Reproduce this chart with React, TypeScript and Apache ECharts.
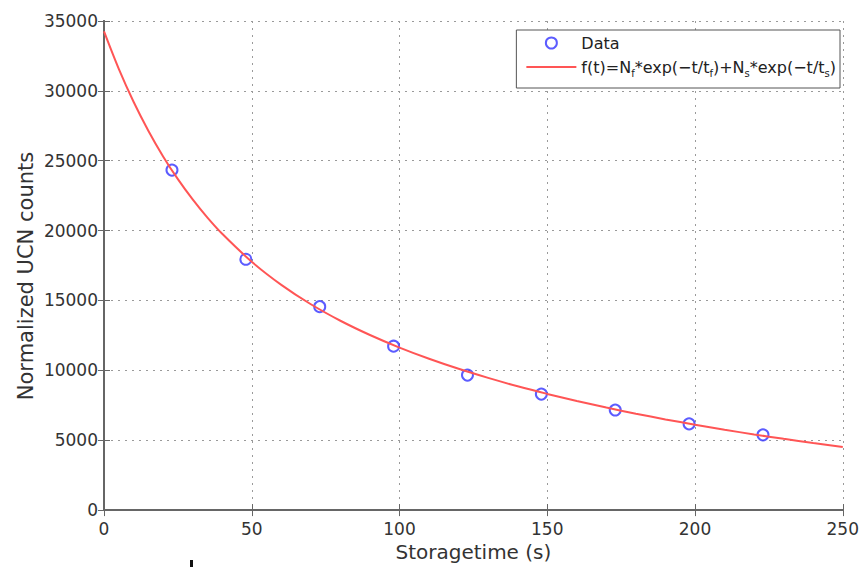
import React, { useEffect, useRef } from "react";
import * as echarts from "echarts";

const dataTimes = [23, 48, 73, 98, 123, 148, 173, 198, 223];
const dataCounts = [24330, 17950, 14560, 11730, 9660, 8300, 7160, 6170, 5385];

const fitTimes = [0, 5, 10, 15, 20, 25, 30, 35, 40, 50, 60, 70, 80, 90, 100, 110, 120, 130, 140, 150, 160, 170, 180, 190, 200, 210, 220, 230, 240, 250];
const fitCounts = [34250, 31570, 29220, 27150, 25310, 23680, 22230, 20930, 19770, 17770, 16120, 14730, 13550, 12530, 11630, 10830, 10110, 9460, 8860, 8315, 7810, 7340, 6900, 6490, 6110, 5750, 5415, 5100, 4800, 4520];

const xTicks = [0, 50, 100, 150, 200, 250];
const yTicks = [0, 5000, 10000, 15000, 20000, 25000, 30000, 35000];

const FONT = "'DejaVu Sans', 'Liberation Sans', Arial, sans-serif";
const TXT = "#333333";
const AX = "#666666";

export default function App() {
  const ref = useRef<HTMLDivElement>(null);
  useEffect(() => {
    if (!ref.current) return;
    const chart = echarts.init(ref.current, null, { renderer: "svg" });
    const fitName = "fit";
    chart.setOption({
      animation: false,
      backgroundColor: "#ffffff",
      grid: { left: 104, right: 15, top: 21, bottom: 52, containLabel: false },
      legend: {
        right: 22,
        top: 30,
        orient: "vertical",
        backgroundColor: "#ffffff",
        borderColor: "#555",
        borderWidth: 1,
        borderRadius: 0,
        padding: [5, 4, 10, 10],
        itemGap: 8,
        itemWidth: 50,
        itemHeight: 11,
        textStyle: {
          fontFamily: FONT,
          fontSize: 16,
          color: "#222",
          rich: {
            n: { fontFamily: FONT, fontSize: 16, color: "#222" },
            s: { fontFamily: FONT, fontSize: 10, color: "#222", verticalAlign: "bottom", padding: [12, 0, 0, 0] },
          },
        },
        formatter: (name: string) =>
          name === "Data"
            ? "{n|Data}"
            : "{n|f(t)=N}{s|f}{n|*exp(\u2212t/t}{s|f}{n|)+N}{s|s}{n|*exp(\u2212t/t}{s|s}{n|)}",
        data: [
          { name: "Data", icon: "circle", itemStyle: { color: "#fff", borderColor: "#3333ff", borderWidth: 2 } },
          { name: fitName, icon: "path://M0,0 L50,0 L50,2 L0,2 Z", itemStyle: { color: "#ff5555" } },
        ],
      },
      xAxis: [
        {
          type: "value",
          min: xTicks[0],
          max: xTicks[xTicks.length - 1],
          interval: 50,
          position: "bottom",
          name: "Storagetime (s)",
          nameLocation: "middle",
          nameGap: 28,
          nameTextStyle: { fontFamily: FONT, fontSize: 20, color: TXT },
          axisLine: { show: true, lineStyle: { color: AX, width: 2 } },
          axisTick: { show: true, inside: true, length: 6, lineStyle: { color: AX } },
          axisLabel: { fontFamily: FONT, fontSize: 17, color: TXT, margin: 10, formatter: (v: number) => String(v) },
          splitLine: { show: true, lineStyle: { color: "#9a9a9a", type: [2, 5], width: 1 } },
        },
        {
          type: "value",
          min: xTicks[0],
          max: xTicks[xTicks.length - 1],
          interval: 50,
          position: "top",
          axisLine: { show: true, lineStyle: { color: AX, width: 2 } },
          axisTick: { show: true, inside: true, length: 6, lineStyle: { color: AX } },
          axisLabel: { show: false },
          splitLine: { show: false },
        },
      ],
      yAxis: [
        {
          type: "value",
          min: yTicks[0],
          max: yTicks[yTicks.length - 1],
          interval: 5000,
          position: "left",
          axisLine: { show: true, lineStyle: { color: AX, width: 2 } },
          axisTick: { show: true, inside: true, length: 6, lineStyle: { color: AX } },
          axisLabel: { fontFamily: FONT, fontSize: 17, color: TXT, margin: 6, formatter: (v: number) => String(v) },
          splitLine: { show: true, lineStyle: { color: "#9a9a9a", type: [2, 5], width: 1 } },
        },
        {
          type: "value",
          min: yTicks[0],
          max: yTicks[yTicks.length - 1],
          interval: 5000,
          position: "right",
          axisLine: { show: true, lineStyle: { color: AX, width: 2 } },
          axisTick: { show: true, inside: true, length: 6, lineStyle: { color: AX } },
          axisLabel: { show: false },
          splitLine: { show: false },
        },
      ],
      series: [
        {
          name: fitName,
          type: "line",
          data: fitTimes.map((t, i) => [t, fitCounts[i]]),
          smooth: 0.3,
          showSymbol: false,
          symbol: "none",
          lineStyle: { color: "#ff5555", width: 2 },
          itemStyle: { color: "#ff5555" },
          z: 3,
        },
        {
          name: "Data",
          type: "scatter",
          data: dataTimes.map((t, i) => [t, dataCounts[i]]),
          symbol: "circle",
          symbolSize: 11,
          itemStyle: { color: "rgba(255,255,255,0)", borderColor: "#3333ff", borderWidth: 2 },
          z: 2,
        },
      ],
      graphic: [
        {
          type: "text",
          x: 26,
          y: 276,
          rotation: Math.PI / 2,
          style: {
            text: "Normalized UCN counts",
            fontFamily: FONT,
            fontSize: 21,
            fill: TXT,
            align: "center",
            verticalAlign: "middle",
          },
        },
        { type: "rect", shape: { x: 190, y: 560, width: 3, height: 8 }, style: { fill: "#111" } },
      ],
    });
    return () => chart.dispose();
  }, []);
  return (
    <div
      ref={ref}
      style={{ position: "absolute", left: 0, top: 0, width: 862, height: 567 }}
    />
  );
}
